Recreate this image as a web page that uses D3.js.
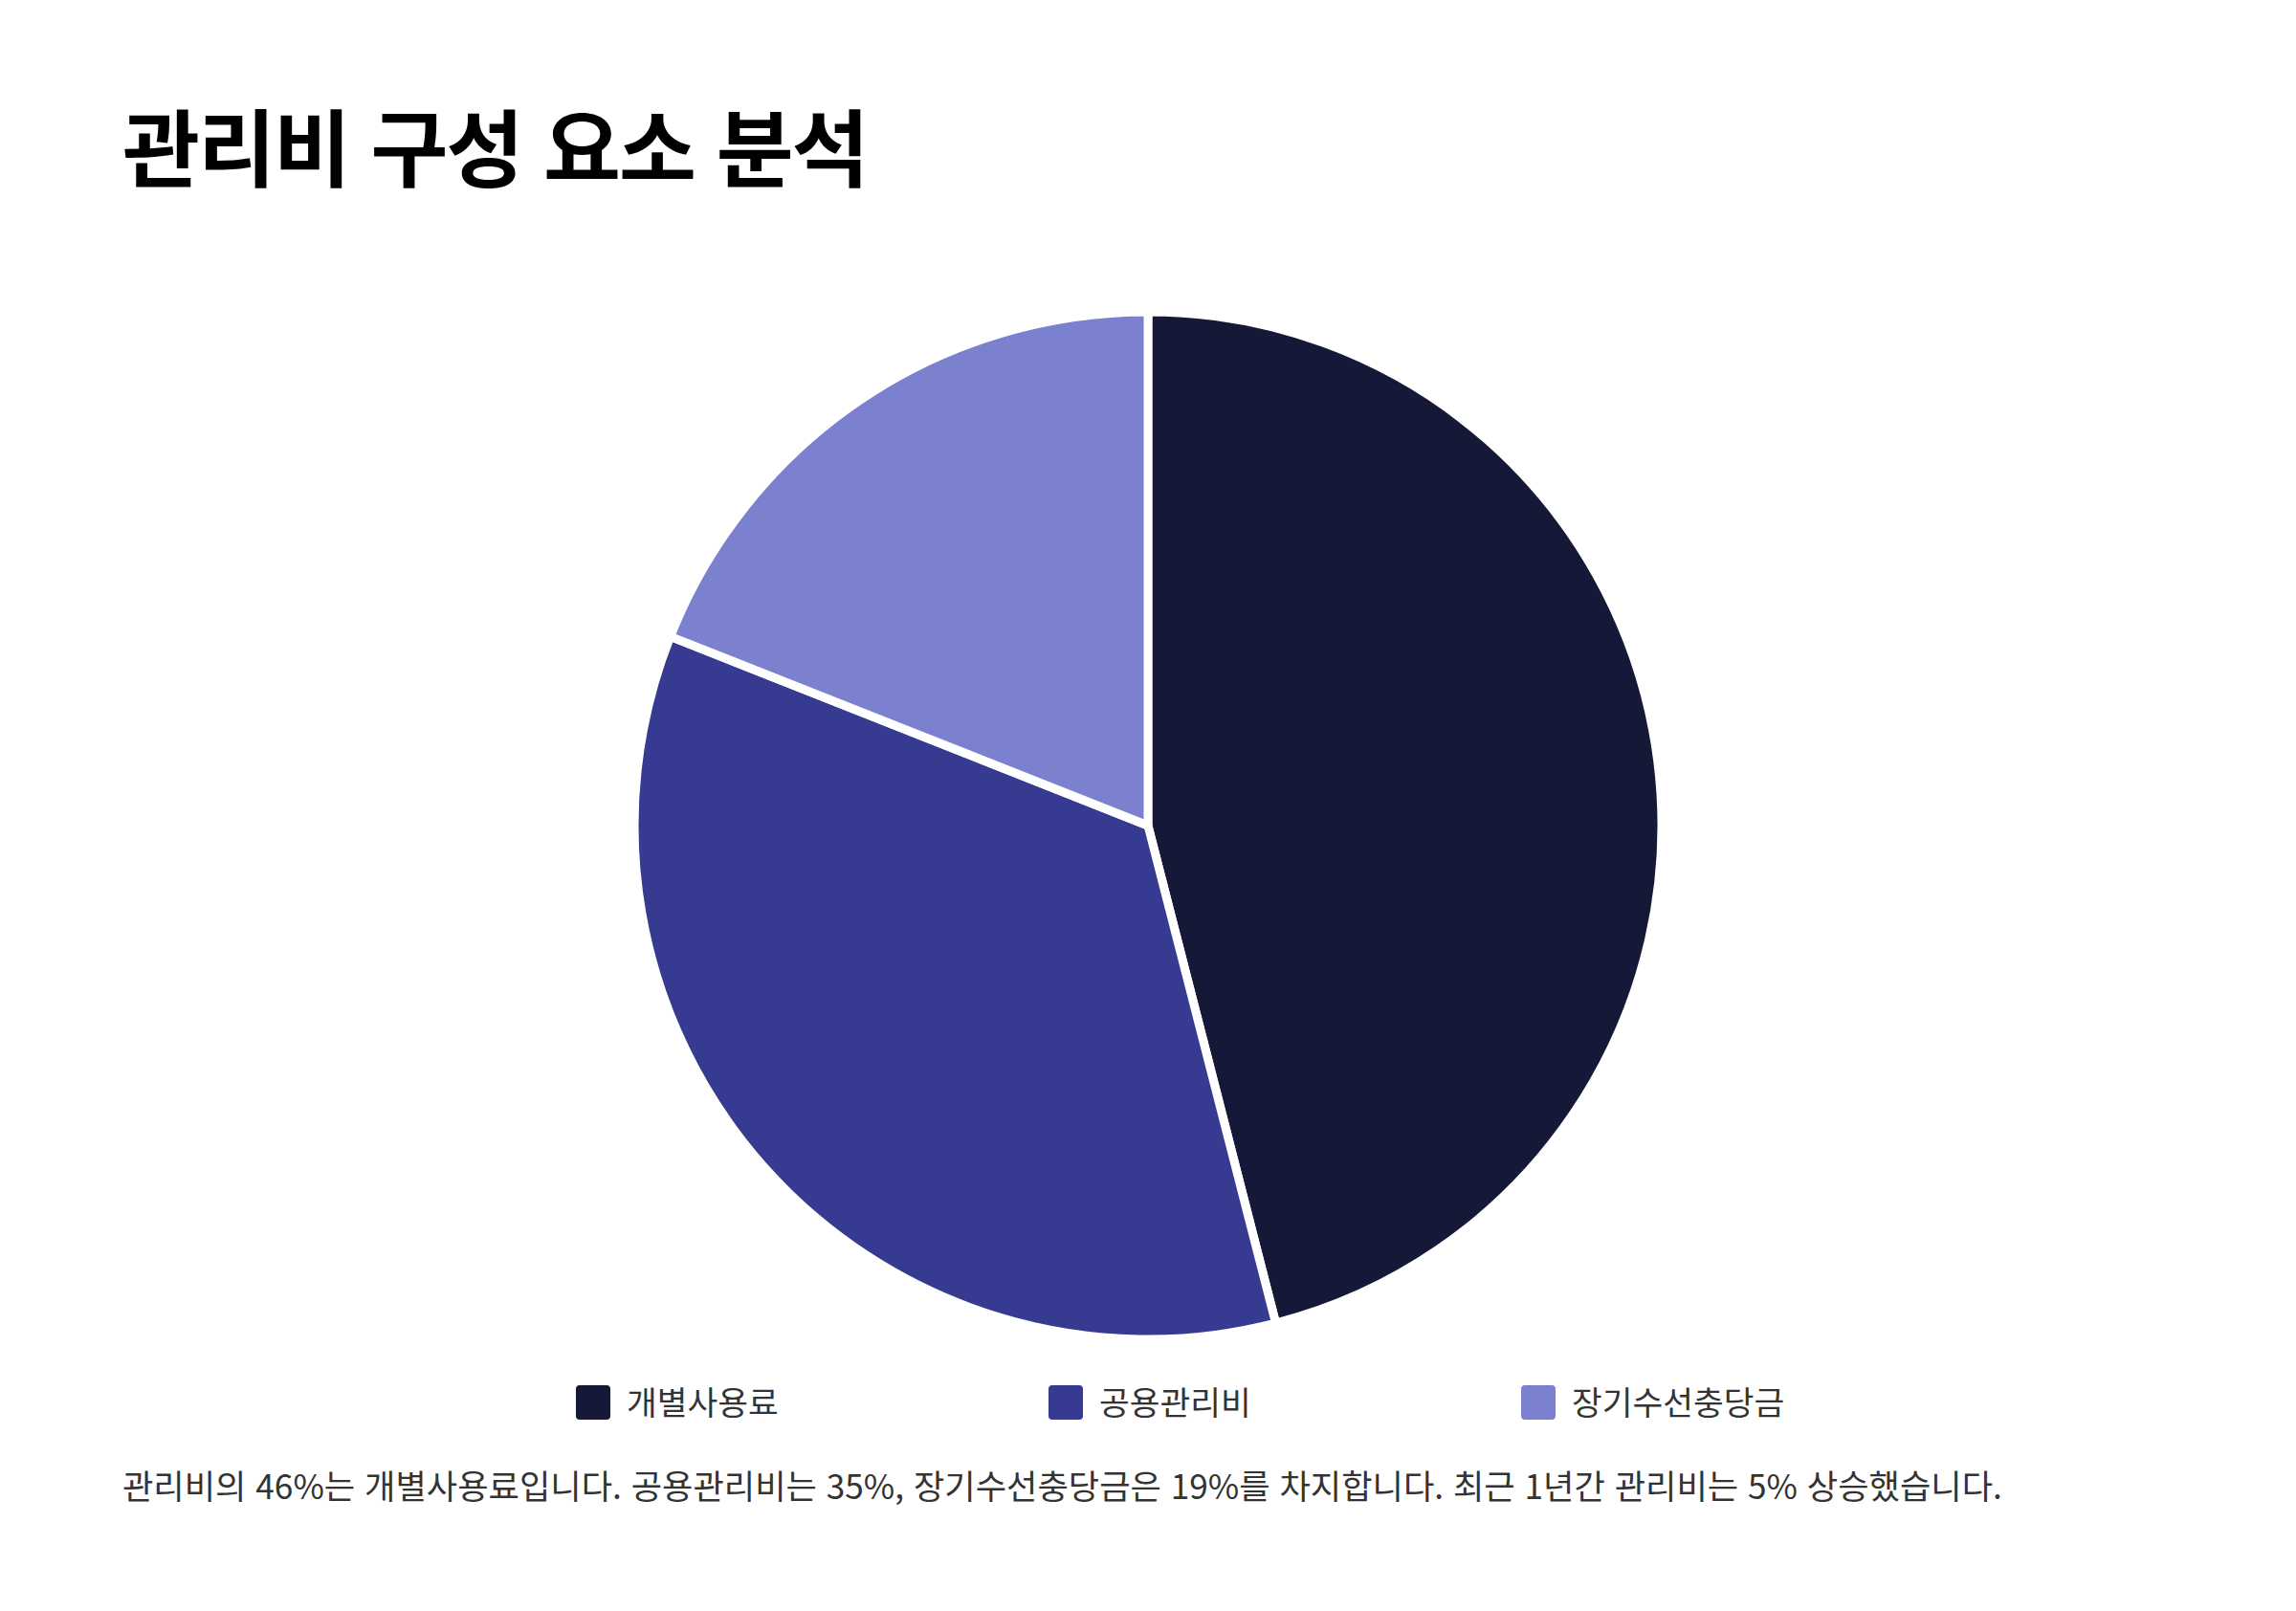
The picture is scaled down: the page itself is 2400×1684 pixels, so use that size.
<!DOCTYPE html>
<html lang="ko">
<head>
<meta charset="utf-8">
<script src="https://cdn.jsdelivr.net/npm/d3@7"></script>
<style>
    html, body { margin: 0; padding: 0; background: #ffffff; }
    svg { display: block; }
</style>
</head>
<body>
<div id="chart"></div>
<script>
    // chart data
    var categories = ["개별사용료", "공용관리비", "장기수선충당금"];
    var shares = [46, 35, 19];
    var colours = ["#161838", "#363a91", "#7b80cf"];

    var titleText = "관리비 구성 요소 분석";
    var noteText = "관리비의 46%는 개별사용료입니다. 공용관리비는 35%, 장기수선충당금은 19%를 차지합니다. 최근 1년간 관리비는 5% 상승했습니다.";

    var width = 2400,
        height = 1684,
        fontFamily = "'Noto Sans CJK KR', 'Noto Sans', sans-serif";

    var svg = d3.select("#chart").append("svg")
        .attr("width", width)
        .attr("height", height)
        .attr("viewBox", "0 0 " + width + " " + height);

    // Title
    svg.append("text")
        .attr("x", 128)
        .attr("y", 188)
        .attr("font-family", fontFamily)
        .attr("font-size", 88)
        .attr("font-weight", 700)
        .attr("letter-spacing", -2)
        .attr("fill", "#000000")
        .text(titleText);

    // Pie
    var centre = {x: 1200, y: 863},
        radius = 537;

    var pie = d3.pie().sort(null).value(function (d) { return d.value; });
    var arc = d3.arc().innerRadius(0).outerRadius(radius);

    var data = categories.map(function (c, i) {
        return {name: c, value: shares[i]};
    });

    var colour = d3.scaleOrdinal().domain(categories).range(colours);

    var pieGroup = svg.append("g")
        .attr("transform", "translate(" + centre.x + "," + centre.y + ")");

    pieGroup.selectAll("path")
        .data(pie(data))
        .enter().append("path")
        .attr("d", arc)
        .attr("fill", function (d) { return colour(d.data.name); })
        .attr("stroke", "#ffffff")
        .attr("stroke-width", 9)
        .attr("stroke-linejoin", "round");

    // Legend
    var legendX = d3.scalePoint().domain(categories).range([602, 1590]);

    var legend = svg.append("g").attr("class", "legend");
    var items = legend.selectAll("g")
        .data(categories)
        .enter().append("g")
        .attr("transform", function (d) { return "translate(" + legendX(d) + ",1448)"; });

    items.append("rect")
        .attr("width", 36)
        .attr("height", 36)
        .attr("rx", 4)
        .attr("fill", function (d) { return colour(d); });

    items.append("text")
        .attr("x", 53)
        .attr("y", 31)
        .attr("font-family", fontFamily)
        .attr("font-size", 34.5)
        .attr("fill", "#333333")
        .text(function (d) { return d; });

    // Footnote
    svg.append("text")
        .attr("x", 128)
        .attr("y", 1567)
        .attr("font-family", fontFamily)
        .attr("font-size", 35.2)
        .attr("fill", "#333333")
        .text(noteText);
</script>
</body>
</html>
